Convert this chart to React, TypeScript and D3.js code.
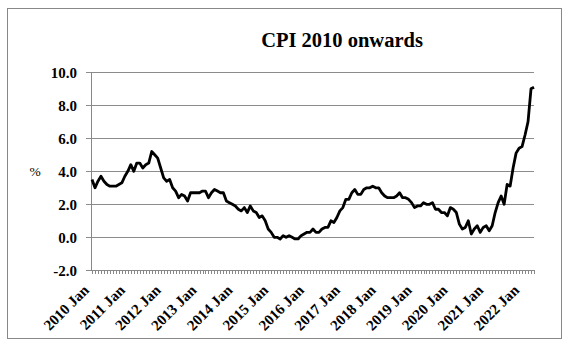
import * as d3 from "d3";

const title = "CPI 2010 onwards";
const yLabel = "%";
const startYear = 2010;
const monthNames = ["Jan", "Feb", "Mar", "Apr", "May", "Jun", "Jul", "Aug", "Sep", "Oct", "Nov", "Dec"];

// monthly CPI annual rate, Jan 2010 - May 2022
const cpi2010 = [3.5, 3.0, 3.4, 3.7, 3.4, 3.2, 3.1, 3.1, 3.1, 3.2, 3.3, 3.7];
const cpi2011 = [4.0, 4.4, 4.0, 4.5, 4.5, 4.2, 4.4, 4.5, 5.2, 5.0, 4.8, 4.2];
const cpi2012 = [3.6, 3.4, 3.5, 3.0, 2.8, 2.4, 2.6, 2.5, 2.2, 2.7, 2.7, 2.7];
const cpi2013 = [2.7, 2.8, 2.8, 2.4, 2.7, 2.9, 2.8, 2.7, 2.7, 2.2, 2.1, 2.0];
const cpi2014 = [1.9, 1.7, 1.6, 1.8, 1.5, 1.9, 1.6, 1.5, 1.2, 1.3, 1.0, 0.5];
const cpi2015 = [0.3, 0.0, 0.0, -0.1, 0.1, 0.0, 0.1, 0.0, -0.1, -0.1, 0.1, 0.2];
const cpi2016 = [0.3, 0.3, 0.5, 0.3, 0.3, 0.5, 0.6, 0.6, 1.0, 0.9, 1.2, 1.6];
const cpi2017 = [1.8, 2.3, 2.3, 2.7, 2.9, 2.6, 2.6, 2.9, 3.0, 3.0, 3.1, 3.0];
const cpi2018 = [3.0, 2.7, 2.5, 2.4, 2.4, 2.4, 2.5, 2.7, 2.4, 2.4, 2.3, 2.1];
const cpi2019 = [1.8, 1.9, 1.9, 2.1, 2.0, 2.0, 2.1, 1.7, 1.7, 1.5, 1.5, 1.3];
const cpi2020 = [1.8, 1.7, 1.5, 0.8, 0.5, 0.6, 1.0, 0.2, 0.5, 0.7, 0.3, 0.6];
const cpi2021 = [0.7, 0.4, 0.7, 1.5, 2.1, 2.5, 2.0, 3.2, 3.1, 4.2, 5.1, 5.4];
const cpi2022 = [5.5, 6.2, 7.0, 9.0, 9.1];

const yTicks = [-2, 0, 2, 4, 6, 8, 10];

const values = [
  ...cpi2010, ...cpi2011, ...cpi2012, ...cpi2013, ...cpi2014, ...cpi2015, ...cpi2016,
  ...cpi2017, ...cpi2018, ...cpi2019, ...cpi2020, ...cpi2021, ...cpi2022,
];
const categories = values.map((_, i) => `${startYear + Math.floor(i / 12)} ${monthNames[i % 12]}`);

const W = 569;
const H = 348;
const font = "'Liberation Serif', 'Times New Roman', serif";

export default function App() {
  const x = d3.scalePoint<string>().domain(categories).range([92, 534]);
  const y = d3.scaleLinear().domain([-2, 10]).range([270.3, 72.3]);

  const line = d3
    .line<number>()
    .x((_, i) => x(categories[i]) as number)
    .y((d) => y(d));

  const yearLabels = categories.filter((c) => c.endsWith("Jan"));

  return (
    <svg width={W} height={H} style={{ position: "fixed", left: 0, top: 0, background: "#fff" }}>
      <rect x={7.5} y={8.5} width={554} height={330} fill="#fff" stroke="#888" strokeWidth={1} />
      <text x={342} y={47} textAnchor="middle" fontFamily={font} fontWeight="bold" fontSize={20.5} fill="#000">
        {title}
      </text>

      {/* gridlines */}
      {yTicks.filter((t) => t > -2).map((t) => (
        <line key={t} x1={86} x2={534} y1={Math.round(y(t)) + 0.5} y2={Math.round(y(t)) + 0.5} stroke="#8c8c8c" strokeWidth={1} />
      ))}
      {/* y labels */}
      {yTicks.map((t) => (
        <text key={"l" + t} x={77} y={y(t)} dy="0.35em" textAnchor="end" fontFamily={font} fontWeight="bold" fontSize={15} fill="#000">
          {t.toFixed(1)}
        </text>
      ))}
      <text x={35} y={y(4)} dy="0.35em" textAnchor="middle" fontFamily={font} fontSize={13.5} fill="#000">
        {yLabel}
      </text>

      {/* axes */}
      <line x1={91.5} x2={91.5} y1={72} y2={271} stroke="#888" strokeWidth={1} />
      <line x1={86} x2={534} y1={270.5} y2={270.5} stroke="#888" strokeWidth={1} />
      {categories.map((c) => (
        <line key={"t" + c} x1={Math.round(x(c) as number) + 0.5} x2={Math.round(x(c) as number) + 0.5} y1={270} y2={274} stroke="#888" strokeWidth={1} />
      ))}
      {yearLabels.map((c) => {
        const tx = (x(c) as number) - 2;
        const ty = 291;
        return (
          <text key={"x" + c} x={tx} y={ty} textAnchor="end" transform={`rotate(-45 ${tx} ${ty})`} fontFamily={font} fontWeight="bold" fontSize={15} fill="#000">
            {c}
          </text>
        );
      })}

      <path d={line(values) ?? ""} fill="none" stroke="#000" strokeWidth={2.8} strokeLinejoin="round" />
    </svg>
  );
}
